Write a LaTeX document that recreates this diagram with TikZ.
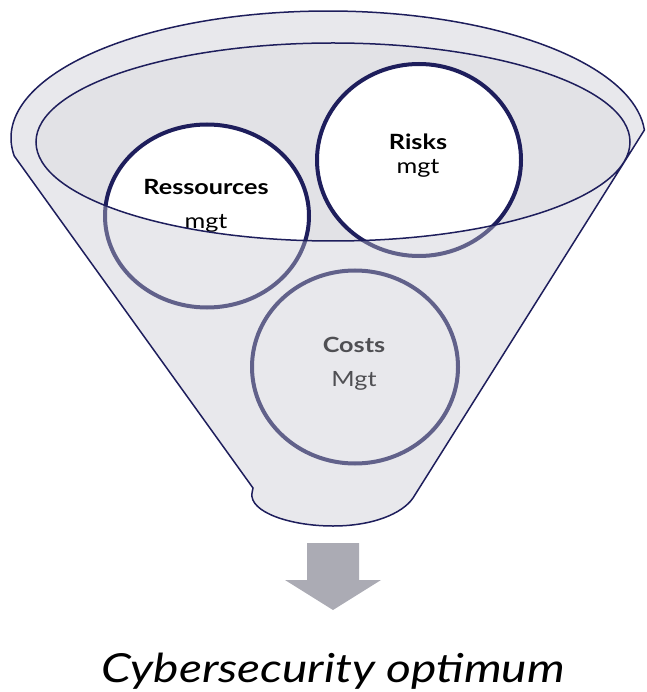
\documentclass[tikz,border=0pt]{standalone}
\usepackage{fontspec}
\setmainfont[FakeStretch=1.2]{Lato}
\usetikzlibrary{shapes.geometric}
\definecolor{navy}{HTML}{1E1E5C}
\definecolor{opening}{HTML}{E2E2E6}
\definecolor{veil}{HTML}{C6C6D0}
\definecolor{arrowgrey}{HTML}{ABABB4}
\tikzstyle{bubble}=[ellipse,
                    draw=navy,
                    line width=4pt,
                    fill=white,
                    minimum width=204pt
                   ]
\tikzstyle{mgtext}=[anchor=base, inner sep=0pt, font=\fontsize{21}{25}\selectfont]

\begin{document}
\begin{tikzpicture}[x=1pt, y=-1pt]
  \useasboundingbox (0,0) rectangle (646,692);

  % back of the funnel
  \fill[opening] (333,142) ellipse [x radius=297, y radius=99];

  \node at (207,216) (res) [bubble, minimum height=183pt] {};
  \node at (419,160) (risk) [bubble, minimum height=192pt] {};
  \node at (355,367) (cost) [bubble, minimum width=206pt, minimum height=193pt] {};

  \node at (206,195) (res1) [mgtext] {\bfseries Ressources};
  \node at (206,229) (res2) [mgtext] {mgt};
  \node at (418,150) (risk1) [mgtext] {\bfseries Risks};
  \node at (418,174) (risk2) [mgtext] {mgt};
  \node at (354,352) (cost1) [mgtext] {\bfseries Costs};
  \node at (354,386) (cost2) [mgtext] {Mgt};

  % front of the funnel, see-through
  \path[fill=veil, fill opacity=0.4, draw=navy, line width=1.5pt, even odd rule]
    (14.2,155.9) arc[start angle=188.1, end angle=3.6, x radius=317pt, y radius=127pt]
    -- (413,498) .. controls (402,514) and (372,526) .. (333,526)
    .. controls (290,526) and (249,512) .. (252,493) -- (253,488) -- cycle
    (333,142) ellipse [x radius=297, y radius=99];

  \fill[arrowgrey] (307,543) -- (359,543) -- (359,580) -- (381,580) -- (333,610)
    -- (285,580) -- (307,580) -- cycle;

  \node at (333,682) (optimum) [anchor=base, inner sep=0pt, font=\fontsize{40}{48}\selectfont\itshape] {Cybersecurity optimum};
\end{tikzpicture}
\end{document}
